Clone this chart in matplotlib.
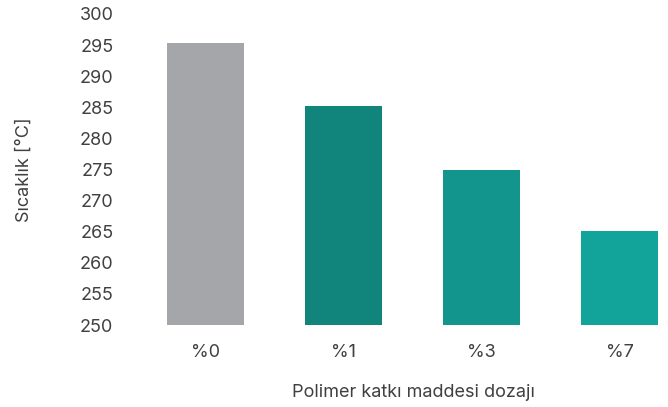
import matplotlib.pyplot as plt
import numpy as np

plt.rcParams['font.family'] = ['Inter', 'DejaVu Sans']

kategoriler = ["%0", "%1", "%3", "%7"]
sicaklik = [295.3, 285.2, 275.0, 265.1]
renkler = ["#a5a6a9", "#11857c", "#11958d", "#12a39b"]

W, H = 668, 407
fig = plt.figure(figsize=(W / 100, H / 100), dpi=100)
ax = fig.add_axes([130 / W, (H - 325) / H, (664 - 130) / W, (325 - 14) / H])

x = np.arange(len(kategoriler))
ax.bar(x, sicaklik, width=0.56, color=renkler, bottom=0)
ax.set_ylim(250, 300)
ax.set_xlim(-0.547, 3.32)
ax.set_yticks(np.arange(250, 301, 5))
ax.set_xticks(x)
ax.set_xticklabels(kategoriler)

for s in ax.spines.values():
    s.set_visible(False)
ax.tick_params(length=0, labelsize=13, labelcolor="#404040")
ax.tick_params(axis="y", pad=12)
ax.tick_params(axis="x", pad=14)

ax.set_ylabel("Sıcaklık [°C]", fontsize=13, color="#404040", labelpad=34)
ax.set_xlabel("Polimer katkı maddesi dozajı", fontsize=13, color="#404040", labelpad=13)
ax.xaxis.set_label_coords(0.53, -0.19)

fig.savefig("out.png", dpi=100)
